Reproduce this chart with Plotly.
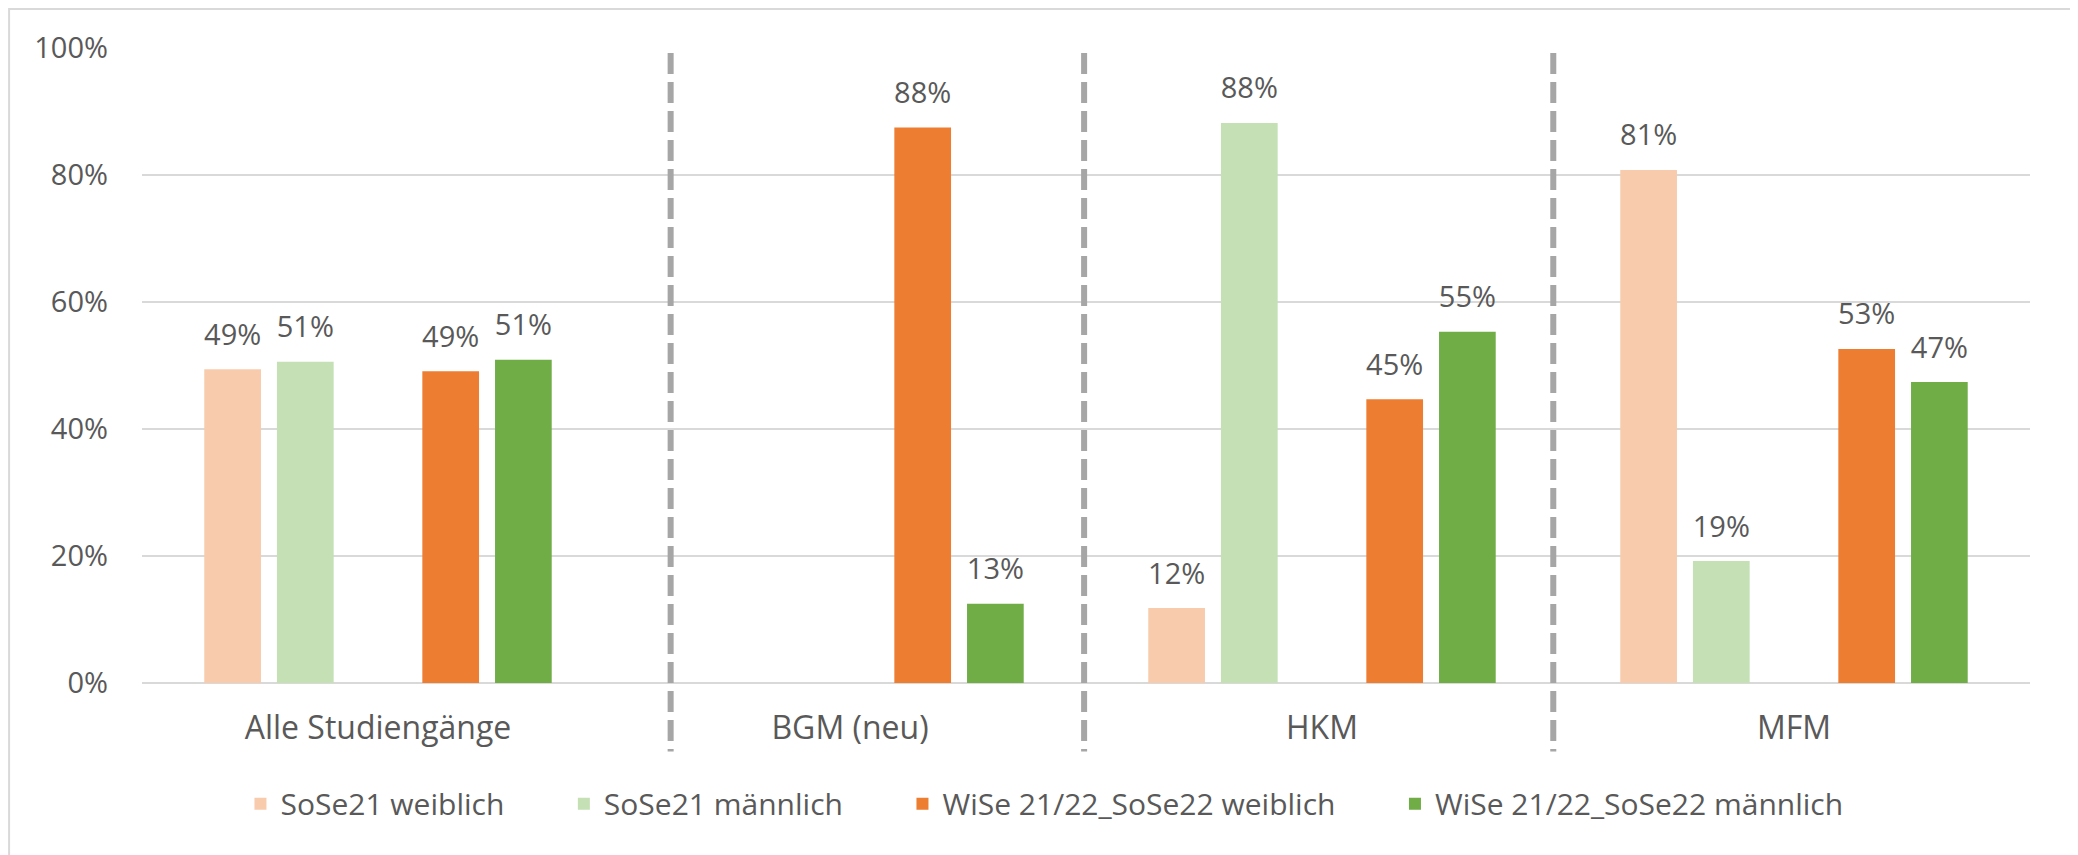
import plotly.graph_objects as go

categories = ["Alle Studiengänge", "BGM (neu)", "HKM", "MFM"]
series_names = ["SoSe21 weiblich", "SoSe21 männlich", "WiSe 21/22_SoSe22 weiblich", "WiSe 21/22_SoSe22 männlich"]
sose21_w = [0.494, None, 0.118, 0.808]
sose21_m = [0.506, None, 0.882, 0.192]
wise_w = [0.491, 0.875, 0.447, 0.526]
wise_m = [0.509, 0.125, 0.553, 0.474]
separators = [0.62, 1.496, 2.49]
yticks = [0, 0.2, 0.4, 0.6, 0.8, 1.0]

colors = ["#F8CBAD", "#C5E0B4", "#ED7D31", "#70AD47"]
font = "Open Sans"
txt = "#595959"
pad = "\u00a0" * 7

series = [(series_names[0] + pad, sose21_w, colors[0]),
          (series_names[1] + pad, sose21_m, colors[1]),
          None,  # empty spacer slot in each group
          (series_names[2] + pad, wise_w, colors[2]),
          (series_names[3], wise_m, colors[3])]

fig = go.Figure()
for i, s in enumerate(series):
    if s is None:
        fig.add_trace(go.Bar(x=categories, y=[None] * 4, showlegend=False, hoverinfo="skip"))
        continue
    name, vals, col = s
    fig.add_trace(go.Bar(x=categories, y=vals, name=name, marker_color=col, marker_line_width=0))

# value labels, grouped like the bars
for i, s in enumerate(series):
    vals = [None] * 4 if s is None else s[1]
    fig.add_trace(go.Scatter(
        x=categories, y=vals, mode="markers+text", showlegend=False, hoverinfo="skip",
        marker=dict(size=26, color="rgba(0,0,0,0)"),
        texttemplate="%{y:.0%}", textposition="top center", cliponaxis=False,
        textfont=dict(family=font, size=29, color=txt)))

shapes = []
for s in separators:
    shapes.append(dict(type="line", xref="x", yref="paper", x0=s, x1=s, y0=0.992, y1=-0.108,
                       line=dict(color="#A6A6A6", width=6, dash="21px,8px")))
shapes.append(dict(type="rect", xref="paper", yref="paper", x0=-0.0704, x1=1.0222, y0=-0.3, y1=1.0614,
                   line=dict(color="#D9D9D9", width=2), fillcolor="rgba(0,0,0,0)", layer="below"))

fig.update_layout(
    width=2070, height=847,
    margin=dict(l=134, r=48, t=40, b=172),
    paper_bgcolor="white", plot_bgcolor="white",
    barmode="group", bargap=0.23, bargroupgap=0.22,
    scattermode="group", scattergap=0.23,
    font=dict(family=font, size=30, color=txt),
    shapes=shapes,
    showlegend=True,
    legend=dict(orientation="h", x=0.478, xanchor="center", y=-0.19, yanchor="middle",
                font=dict(family=font, size=30, color=txt), itemwidth=30,
                traceorder="normal"),
)
fig.update_xaxes(showgrid=False, showline=False, ticks="", ticklabelstandoff=23, automargin=False,
                 tickfont=dict(family=font, size=32, color=txt))
fig.update_yaxes(range=[0, 1.0], tickvals=yticks, tickformat=".0%", showgrid=True,
                 gridcolor="#D9D9D9", gridwidth=2, zeroline=True, zerolinecolor="#D9D9D9", zerolinewidth=2,
                 showline=False, ticks="", ticklabelstandoff=33, automargin=False,
                 tickfont=dict(family=font, size=29, color=txt))

fig.write_html("out.html")
